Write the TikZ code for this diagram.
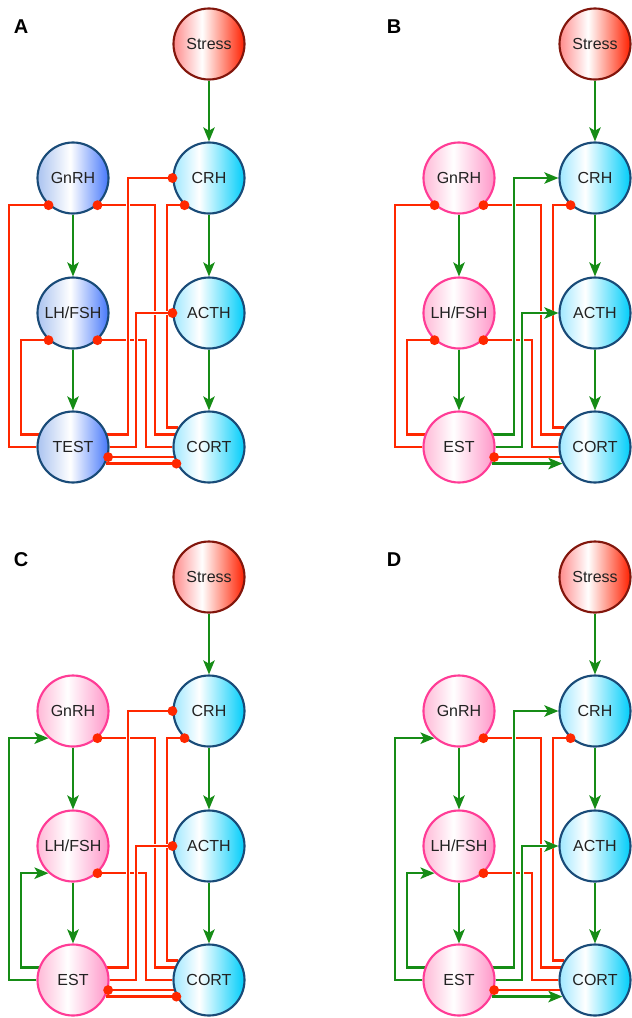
\documentclass[tikz,border=0pt]{standalone}
\usepackage{fontspec}
\setmainfont{Liberation Sans}
\usetikzlibrary{arrows.meta,backgrounds}

% colours
\definecolor{inhred}{RGB}{255,40,0}
\definecolor{excgreen}{RGB}{22,140,22}
\definecolor{bluerim}{RGB}{25,75,120}
\definecolor{pinkrim}{RGB}{255,60,150}
\definecolor{stressrim}{RGB}{130,22,12}
\definecolor{textgray}{RGB}{34,34,34}
\definecolor{stressL}{RGB}{255,140,140}
\definecolor{stressR}{RGB}{255,32,0}
\definecolor{gonL}{RGB}{170,195,240}
\definecolor{gonR}{RGB}{70,120,250}
\definecolor{cyanL}{RGB}{160,232,255}
\definecolor{cyanR}{RGB}{0,205,250}
\definecolor{pinkL}{RGB}{255,185,215}
\definecolor{pinkR}{RGB}{255,150,200}

% left-to-right fills of the hormone circles
\pgfdeclarehorizontalshading{stressshade}{100bp}{color(0bp)=(stressL); color(25bp)=(stressL); color(45bp)=(white); color(75bp)=(stressR); color(100bp)=(stressR)}
\pgfdeclarehorizontalshading{gonshade}{100bp}{color(0bp)=(gonL); color(25bp)=(gonL); color(48bp)=(white); color(75bp)=(gonR); color(100bp)=(gonR)}
\pgfdeclarehorizontalshading{cyanshade}{100bp}{color(0bp)=(cyanL); color(25bp)=(cyanL); color(43bp)=(white); color(75bp)=(cyanR); color(100bp)=(cyanR)}
\pgfdeclarehorizontalshading{pinkshade}{100bp}{color(0bp)=(pinkL); color(25bp)=(pinkL); color(46bp)=(white); color(75bp)=(pinkR); color(100bp)=(pinkR)}

\tikzset{
  hormone/.style={circle, minimum size=53.25pt, inner sep=0pt, line width=1.6pt,
    font=\fontsize{12}{14}\selectfont, text=textgray},
  stressnode/.style={hormone, draw=stressrim, shading=stressshade},
  adrenal/.style={hormone, draw=bluerim, shading=cyanshade},
  gonadblue/.style={hormone, draw=bluerim, shading=gonshade},
  gonadpink/.style={hormone, draw=pinkrim, shading=pinkshade},
  halo/.style={preaction={draw=white, line width=3.6pt}},
  inh/.style={halo, draw=inhred, line width=1.9pt},
  exc/.style={halo, draw=excgreen, line width=1.9pt, -{Stealth[length=10.5pt,width=8.5pt,inset=2.5pt]}},
  inhdot/.style={fill=inhred},
  panellabel/.style={font=\bfseries\fontsize{15}{18}\selectfont, text=black}
}

% the seven hormones of one panel, the routing columns and the main cascade
\newcommand\axisnodes[2]{%
  \node[stressnode] (Stress) at (209,44) {Stress};
  \node[#1] (GnRH) at (73,178) {GnRH};
  \node[adrenal] (CRH) at (209,178) {CRH};
  \node[#1] (LH) at (73,313) {LH/FSH};
  \node[adrenal] (ACTH) at (209,313) {ACTH};
  \node[#1] (SEX) at (73,447) {#2};
  \node[adrenal] (CORT) at (209,447) {CORT};
  \coordinate (cA) at (9,0);
  \coordinate (cB) at (21,0);
  \coordinate (cC) at (128,0);
  \coordinate (cD) at (136,0);
  \coordinate (cE) at (146,0);
  \coordinate (cF) at (155,0);
  \coordinate (cG) at (167,0);
  \begin{pgfonlayer}{background}
    \draw[exc] (Stress.south) -- (CRH.north);
    \draw[exc] (CRH.south) -- (ACTH.north);
    \draw[exc] (ACTH.south) -- (CORT.north);
    \draw[exc] (GnRH.south) -- (LH.north);
    \draw[exc] (LH.south) -- (SEX.north);
  \end{pgfonlayer}
}

\begin{document}
\begin{tikzpicture}[x=0.75pt, y=-0.75pt]
\useasboundingbox (0,0) rectangle (632,1018);

\node[panellabel] (labA) at (21,27) {A};
\node[panellabel] (labB) at (394,27) {B};
\node[panellabel] (labC) at (21,560) {C};
\node[panellabel] (labD) at (394,560) {D};

% ---------------- panel A: testosterone ----------------
\begin{scope}[name prefix=A-]
  \axisnodes{gonadblue}{TEST}
  \begin{pgfonlayer}{background}
    \draw[inh] (SEX.west) -- (SEX.west -| cA) |- (GnRH.228);
    \draw[inh] (SEX.160) -- (SEX.160 -| cB) |- (LH.228);
    \draw[inh] (GnRH.312) -- (GnRH.312 -| cF) |- (CORT.160);
    \draw[inh] (LH.312) -- (LH.312 -| cE) |- (CORT.west);
    \draw[inh] (CRH.228) -- (CRH.228 -| cG) |- (CORT.148);
    \draw[inh] (SEX.20) -- (SEX.20 -| cC) |- (CRH.west);
    \draw[inh] (SEX.east) -- (SEX.east -| cD) |- (ACTH.west);
    \draw[inh] (CORT.196) -- (SEX.344);
    \draw[inh] (SEX.333) -- (CORT.207);
  \end{pgfonlayer}
  \foreach \p in {GnRH.228, LH.228, GnRH.312, LH.312, CRH.228, CRH.west, ACTH.west, SEX.344, CORT.207}
    \fill[inhdot] (\p) circle (3.7pt);
\end{scope}

% ---------------- panel B: estradiol ----------------
\begin{scope}[shift={(386,0)}, name prefix=B-]
  \axisnodes{gonadpink}{EST}
  \begin{pgfonlayer}{background}
    \draw[inh] (SEX.west) -- (SEX.west -| cA) |- (GnRH.228);
    \draw[inh] (SEX.160) -- (SEX.160 -| cB) |- (LH.228);
    \draw[inh] (GnRH.312) -- (GnRH.312 -| cF) |- (CORT.160);
    \draw[inh] (LH.312) -- (LH.312 -| cE) |- (CORT.west);
    \draw[inh] (CRH.228) -- (CRH.228 -| cG) |- (CORT.148);
    \draw[exc] (SEX.20) -- (SEX.20 -| cC) |- (CRH.west);
    \draw[exc] (SEX.east) -- (SEX.east -| cD) |- (ACTH.west);
    \draw[inh] (CORT.196) -- (SEX.344);
    \draw[exc] (SEX.333) -- (CORT.207);
  \end{pgfonlayer}
  \foreach \p in {GnRH.228, LH.228, GnRH.312, LH.312, CRH.228, SEX.344}
    \fill[inhdot] (\p) circle (3.7pt);
\end{scope}

% ---------------- panel C ----------------
\begin{scope}[shift={(0,533)}, name prefix=C-]
  \axisnodes{gonadpink}{EST}
  \begin{pgfonlayer}{background}
    \draw[exc] (SEX.west) -- (SEX.west -| cA) |- (GnRH.228);
    \draw[exc] (SEX.160) -- (SEX.160 -| cB) |- (LH.228);
    \draw[inh] (GnRH.312) -- (GnRH.312 -| cF) |- (CORT.160);
    \draw[inh] (LH.312) -- (LH.312 -| cE) |- (CORT.west);
    \draw[inh] (CRH.228) -- (CRH.228 -| cG) |- (CORT.148);
    \draw[inh] (SEX.20) -- (SEX.20 -| cC) |- (CRH.west);
    \draw[inh] (SEX.east) -- (SEX.east -| cD) |- (ACTH.west);
    \draw[inh] (CORT.196) -- (SEX.344);
    \draw[inh] (SEX.333) -- (CORT.207);
  \end{pgfonlayer}
  \foreach \p in {GnRH.312, LH.312, CRH.228, CRH.west, ACTH.west, SEX.344, CORT.207}
    \fill[inhdot] (\p) circle (3.7pt);
\end{scope}

% ---------------- panel D ----------------
\begin{scope}[shift={(386,533)}, name prefix=D-]
  \axisnodes{gonadpink}{EST}
  \begin{pgfonlayer}{background}
    \draw[exc] (SEX.west) -- (SEX.west -| cA) |- (GnRH.228);
    \draw[exc] (SEX.160) -- (SEX.160 -| cB) |- (LH.228);
    \draw[inh] (GnRH.312) -- (GnRH.312 -| cF) |- (CORT.160);
    \draw[inh] (LH.312) -- (LH.312 -| cE) |- (CORT.west);
    \draw[inh] (CRH.228) -- (CRH.228 -| cG) |- (CORT.148);
    \draw[exc] (SEX.20) -- (SEX.20 -| cC) |- (CRH.west);
    \draw[exc] (SEX.east) -- (SEX.east -| cD) |- (ACTH.west);
    \draw[inh] (CORT.196) -- (SEX.344);
    \draw[exc] (SEX.333) -- (CORT.207);
  \end{pgfonlayer}
  \foreach \p in {GnRH.312, LH.312, CRH.228, SEX.344}
    \fill[inhdot] (\p) circle (3.7pt);
\end{scope}

\end{tikzpicture}
\end{document}
